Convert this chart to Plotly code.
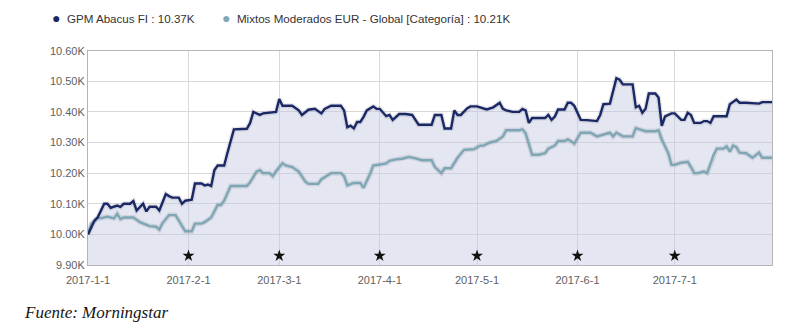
import plotly.graph_objects as go

# Growth of 10K: GPM Abacus FI vs. category average (values in thousands)
gpm_dates = [
    "2017-01-01", "2017-01-03", "2017-01-04", "2017-01-06", "2017-01-07", "2017-01-08",
    "2017-01-10", "2017-01-11", "2017-01-12", "2017-01-14", "2017-01-15", "2017-01-16",
    "2017-01-18", "2017-01-19", "2017-01-20", "2017-01-22", "2017-01-23", "2017-01-25",
    "2017-01-26", "2017-01-27", "2017-01-29", "2017-01-30", "2017-01-31", "2017-02-02",
    "2017-02-03", "2017-02-05", "2017-02-06", "2017-02-07", "2017-02-08", "2017-02-09",
    "2017-02-10", "2017-02-12", "2017-02-13", "2017-02-14", "2017-02-15", "2017-02-19",
    "2017-02-20", "2017-02-21", "2017-02-23", "2017-02-24", "2017-02-26", "2017-02-28",
    "2017-03-01", "2017-03-02", "2017-03-04", "2017-03-05", "2017-03-07", "2017-03-08",
    "2017-03-10", "2017-03-12", "2017-03-14", "2017-03-15", "2017-03-17", "2017-03-20",
    "2017-03-21", "2017-03-22", "2017-03-23", "2017-03-24", "2017-03-25", "2017-03-26",
    "2017-03-27", "2017-03-28", "2017-03-30", "2017-03-31", "2017-04-01", "2017-04-03",
    "2017-04-04", "2017-04-05", "2017-04-07", "2017-04-09", "2017-04-11", "2017-04-13",
    "2017-04-17", "2017-04-18", "2017-04-20", "2017-04-21", "2017-04-23", "2017-04-24",
    "2017-04-25", "2017-04-26", "2017-04-28", "2017-04-29", "2017-05-01", "2017-05-04",
    "2017-05-06", "2017-05-08", "2017-05-09", "2017-05-10", "2017-05-12", "2017-05-14",
    "2017-05-15", "2017-05-16", "2017-05-17", "2017-05-18", "2017-05-22", "2017-05-23",
    "2017-05-24", "2017-05-25", "2017-05-26", "2017-05-28", "2017-05-29", "2017-05-30",
    "2017-05-31", "2017-06-02", "2017-06-04", "2017-06-07", "2017-06-08", "2017-06-09",
    "2017-06-11", "2017-06-13", "2017-06-14", "2017-06-15", "2017-06-18", "2017-06-19",
    "2017-06-20", "2017-06-21", "2017-06-22", "2017-06-23", "2017-06-25", "2017-06-26",
    "2017-06-27", "2017-06-28", "2017-06-30", "2017-07-01", "2017-07-03", "2017-07-04",
    "2017-07-05", "2017-07-06", "2017-07-07", "2017-07-09", "2017-07-10", "2017-07-11",
    "2017-07-12", "2017-07-13", "2017-07-17", "2017-07-18", "2017-07-20", "2017-07-21",
    "2017-07-23", "2017-07-27", "2017-07-28", "2017-07-31",
]
gpm_values = [
    10.000, 10.045, 10.056, 10.100, 10.100, 10.087,
    10.094, 10.090, 10.100, 10.100, 10.109, 10.078,
    10.100, 10.075, 10.090, 10.090, 10.078, 10.132,
    10.125, 10.120, 10.120, 10.100, 10.110, 10.113,
    10.166, 10.166, 10.160, 10.163, 10.158, 10.210,
    10.225, 10.225, 10.266, 10.307, 10.343, 10.345,
    10.364, 10.400, 10.390, 10.395, 10.397, 10.400,
    10.442, 10.420, 10.420, 10.420, 10.405, 10.390,
    10.407, 10.410, 10.395, 10.410, 10.420, 10.420,
    10.405, 10.350, 10.355, 10.346, 10.367, 10.367,
    10.384, 10.405, 10.418, 10.410, 10.410, 10.386,
    10.390, 10.374, 10.393, 10.393, 10.390, 10.358,
    10.358, 10.390, 10.390, 10.346, 10.346, 10.405,
    10.390, 10.390, 10.412, 10.418, 10.418, 10.408,
    10.415, 10.430, 10.410, 10.405, 10.400, 10.400,
    10.410, 10.405, 10.364, 10.380, 10.380, 10.390,
    10.374, 10.385, 10.408, 10.408, 10.430, 10.430,
    10.420, 10.374, 10.373, 10.370, 10.390, 10.425,
    10.427, 10.510, 10.505, 10.490, 10.490, 10.415,
    10.420, 10.397, 10.410, 10.460, 10.460, 10.447,
    10.354, 10.385, 10.395, 10.395, 10.374, 10.374,
    10.397, 10.390, 10.364, 10.364, 10.370, 10.370,
    10.364, 10.386, 10.386, 10.425, 10.440, 10.430,
    10.430, 10.427, 10.432, 10.432,
]

cat_dates = [
    "2017-01-01", "2017-01-02", "2017-01-04", "2017-01-05", "2017-01-07", "2017-01-09",
    "2017-01-10", "2017-01-11", "2017-01-12", "2017-01-15", "2017-01-17", "2017-01-19",
    "2017-01-20", "2017-01-22", "2017-01-23", "2017-01-24", "2017-01-26", "2017-01-28",
    "2017-01-29", "2017-01-31", "2017-02-02", "2017-02-03", "2017-02-05", "2017-02-06",
    "2017-02-08", "2017-02-10", "2017-02-11", "2017-02-12", "2017-02-14", "2017-02-19",
    "2017-02-20", "2017-02-22", "2017-02-23", "2017-02-24", "2017-02-26", "2017-02-27",
    "2017-02-28", "2017-03-02", "2017-03-03", "2017-03-05", "2017-03-07", "2017-03-09",
    "2017-03-10", "2017-03-13", "2017-03-14", "2017-03-17", "2017-03-20", "2017-03-21",
    "2017-03-22", "2017-03-24", "2017-03-26", "2017-03-27", "2017-03-29", "2017-03-30",
    "2017-04-01", "2017-04-03", "2017-04-04", "2017-04-06", "2017-04-08", "2017-04-10",
    "2017-04-12", "2017-04-14", "2017-04-17", "2017-04-18", "2017-04-20", "2017-04-21",
    "2017-04-23", "2017-04-25", "2017-04-27", "2017-04-30", "2017-05-02", "2017-05-03",
    "2017-05-05", "2017-05-07", "2017-05-09", "2017-05-10", "2017-05-14", "2017-05-15",
    "2017-05-16", "2017-05-18", "2017-05-20", "2017-05-22", "2017-05-23", "2017-05-25",
    "2017-05-26", "2017-05-28", "2017-05-29", "2017-05-30", "2017-05-31", "2017-06-02",
    "2017-06-04", "2017-06-05", "2017-06-07", "2017-06-09", "2017-06-11", "2017-06-12",
    "2017-06-13", "2017-06-15", "2017-06-18", "2017-06-19", "2017-06-21", "2017-06-22",
    "2017-06-25", "2017-06-26", "2017-06-27", "2017-06-29", "2017-06-30", "2017-07-01",
    "2017-07-03", "2017-07-05", "2017-07-06", "2017-07-07", "2017-07-08", "2017-07-10",
    "2017-07-11", "2017-07-12", "2017-07-13", "2017-07-14", "2017-07-16", "2017-07-17",
    "2017-07-18", "2017-07-19", "2017-07-20", "2017-07-21", "2017-07-23", "2017-07-25",
    "2017-07-27", "2017-07-28", "2017-07-31",
]
cat_values = [
    10.004, 10.035, 10.053, 10.053, 10.058, 10.052,
    10.067, 10.050, 10.055, 10.055, 10.040, 10.030,
    10.027, 10.025, 10.016, 10.037, 10.063, 10.063,
    10.045, 10.010, 10.010, 10.035, 10.035, 10.040,
    10.055, 10.096, 10.096, 10.110, 10.158, 10.158,
    10.170, 10.205, 10.210, 10.200, 10.200, 10.190,
    10.206, 10.232, 10.225, 10.220, 10.205, 10.173,
    10.165, 10.165, 10.180, 10.200, 10.200, 10.190,
    10.160, 10.168, 10.168, 10.152, 10.197, 10.225,
    10.228, 10.232, 10.240, 10.245, 10.247, 10.253,
    10.248, 10.242, 10.242, 10.220, 10.200, 10.216,
    10.216, 10.250, 10.276, 10.278, 10.290, 10.290,
    10.300, 10.305, 10.320, 10.340, 10.340, 10.343,
    10.330, 10.260, 10.260, 10.265, 10.280, 10.290,
    10.305, 10.305, 10.310, 10.305, 10.296, 10.332,
    10.332, 10.332, 10.320, 10.325, 10.332, 10.320,
    10.332, 10.320, 10.320, 10.347, 10.340, 10.337,
    10.337, 10.340, 10.310, 10.265, 10.227, 10.227,
    10.234, 10.237, 10.220, 10.200, 10.200, 10.205,
    10.200, 10.230, 10.260, 10.280, 10.280, 10.287,
    10.270, 10.290, 10.285, 10.267, 10.265, 10.250,
    10.267, 10.250, 10.250,
]

# Event markers (stars) along the bottom of the chart
event_dates = ["2017-02-01", "2017-03-01", "2017-04-01", "2017-05-01", "2017-06-01", "2017-07-01"]

series_names = [
    "GPM Abacus FI : 10.37K",
    "Mixtos Moderados EUR - Global [Categoría] : 10.21K",
]

x_tick_vals = ["2017-01-01", "2017-02-01", "2017-03-01", "2017-04-01",
               "2017-05-01", "2017-06-01", "2017-07-01"]
x_tick_text = ["2017-1-1", "2017-2-1", "2017-3-1", "2017-4-1",
               "2017-5-1", "2017-6-1", "2017-7-1"]
y_tick_vals = [9.90, 10.00, 10.10, 10.20, 10.30, 10.40, 10.50, 10.60]
y_tick_text = ["9.90K", "10.00K", "10.10K", "10.20K", "10.30K", "10.40K", "10.50K", "10.60K"]

NAVY = "#1a2866"
TEAL = "#7ea7b6"
FILL = "rgba(196,202,224,0.45)"
SANS = "Liberation Sans, Arial, sans-serif"
TICK_FONT = dict(family=SANS, size=11, color="#606060")
LEGEND_FONT = dict(family=SANS, size=11.6, color="#333333")

fig = go.Figure()

# Shaded area under the fund line
fig.add_trace(go.Scatter(
    x=gpm_dates, y=gpm_values, mode="lines", fill="tozeroy",
    fillcolor=FILL, line=dict(width=0, color=NAVY),
    showlegend=False, hoverinfo="skip",
))

# Soft shadows beneath both lines
for xs, ys in ((cat_dates, cat_values), (gpm_dates, gpm_values)):
    fig.add_trace(go.Scatter(
        x=xs, y=ys, mode="lines",
        line=dict(width=5, color="rgba(60,60,80,0.12)"),
        showlegend=False, hoverinfo="skip",
    ))

fig.add_trace(go.Scatter(
    x=cat_dates, y=cat_values, mode="lines",
    line=dict(width=2.4, color=TEAL), showlegend=False, name=series_names[1],
))
fig.add_trace(go.Scatter(
    x=gpm_dates, y=gpm_values, mode="lines",
    line=dict(width=2.4, color=NAVY), showlegend=False, name=series_names[0],
))

fig.add_trace(go.Scatter(
    x=event_dates, y=[9.93] * len(event_dates), mode="markers",
    marker=dict(symbol="star", size=9, color="#111111"),
    showlegend=False, hoverinfo="x",
))

# Legend entries: a coloured dot drawn right before each series name,
# each series in its own legend so the two entries sit where they belong
for name, color, legend_id in zip(series_names, (NAVY, TEAL), ("legend", "legend2")):
    fig.add_trace(go.Scatter(
        x=[None], y=[None], mode="lines", legend=legend_id,
        name=f'<span style="color:{color};font-size:14px">●</span>  {name}',
        line=dict(width=0, color="rgba(0,0,0,0)"),
    ))

legend_common = dict(
    orientation="h", xref="paper", yref="container",
    y=1 - 18 / 331, xanchor="left", yanchor="middle",
    font=LEGEND_FONT, itemclick=False, itemdoubleclick=False,
    bgcolor="rgba(0,0,0,0)",
)

fig.update_layout(
    width=792, height=331,
    margin=dict(l=88, r=20, t=36, b=66),
    paper_bgcolor="white", plot_bgcolor="white",
    legend=dict(x=(12 - 88) / 684, **legend_common),
    legend2=dict(x=(182 - 88) / 684, **legend_common),
    annotations=[dict(
        text="<i>Fuente: Morningstar</i>", xref="paper", yref="paper",
        x=(22 - 88) / 684, y=-(316 - 265) / 229, xanchor="left", yanchor="middle",
        showarrow=False,
        font=dict(family="Liberation Serif, 'Times New Roman', serif", size=17, color="#151515"),
    )],
)

fig.update_xaxes(
    type="date", range=["2017-01-01", "2017-07-31"],
    tickvals=x_tick_vals, ticktext=x_tick_text, tickfont=TICK_FONT,
    ticklabelstandoff=5,
    showgrid=True, gridcolor="#d9d9d9", gridwidth=1,
    showline=True, linecolor="#b5b5b5", linewidth=1, mirror=True,
    ticks="", zeroline=False,
)
fig.update_yaxes(
    range=[9.90, 10.60], tickvals=y_tick_vals, ticktext=y_tick_text,
    tickfont=TICK_FONT,
    showgrid=True, gridcolor="#d9d9d9", gridwidth=1,
    showline=True, linecolor="#b5b5b5", linewidth=1, mirror=True,
    ticks="", zeroline=False,
)

fig.write_html("out.html")
